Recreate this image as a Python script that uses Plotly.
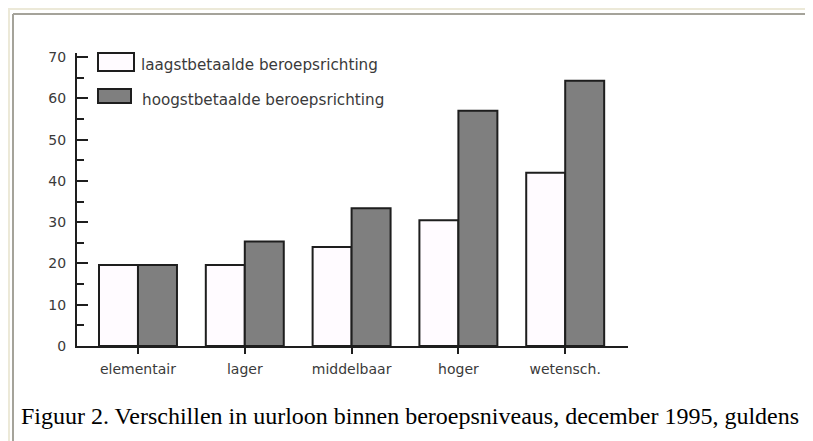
import plotly.graph_objects as go

categories = ["elementair", "lager", "middelbaar", "hoger", "wetensch."]
laagst = [19.6, 19.6, 24.0, 30.5, 42.0]
hoogst = [19.6, 25.3, 33.4, 57.0, 64.3]
series_names = ["laagstbetaalde beroepsrichting", "hoogstbetaalde beroepsrichting"]
y_ticks = [0, 10, 20, 30, 40, 50, 60, 70]
caption = "Figuur 2. Verschillen in uurloon binnen beroepsniveaus, december 1995, guldens"

OFF = 8  # default page body margin
W, H = 813 - OFF, 441 - OFF
# plot area in page pixels
L, R, T, B = 77, 628, 53, 346
PW, PH = R - L, B - T


def px(x):
    return (x - L) / PW


def py(y):
    return (B - y) / PH


TICK_FONT = dict(family="DejaVu Sans", size=14, color="#3a3a3a")
LINE = "#1e1e1e"

fig = go.Figure()
fig.add_trace(go.Bar(x=categories, y=laagst, name=series_names[0],
                     marker=dict(color="#fffbff", line=dict(color=LINE, width=2)),
                     showlegend=False))
fig.add_trace(go.Bar(x=categories, y=hoogst, name=series_names[1],
                     marker=dict(color="#7f7f7f", line=dict(color=LINE, width=2)),
                     showlegend=False))

shapes = []
# legend boxes
shapes.append(dict(type="rect", xref="paper", yref="paper",
                   x0=px(98), x1=px(134), y0=py(71), y1=py(53),
                   fillcolor="#fffbff", line=dict(color=LINE, width=2)))
shapes.append(dict(type="rect", xref="paper", yref="paper",
                   x0=px(98), x1=px(131), y0=py(103), y1=py(89),
                   fillcolor="#7f7f7f", line=dict(color=LINE, width=2)))
# page frame lines
shapes.append(dict(type="line", xref="paper", yref="paper",
                   x0=px(8), x1=px(813), y0=py(9), y1=py(9),
                   line=dict(color="#ece9d8", width=2)))
shapes.append(dict(type="line", xref="paper", yref="paper",
                   x0=px(9), x1=px(9), y0=py(9), y1=py(441),
                   line=dict(color="#ece9d8", width=2)))
shapes.append(dict(type="line", xref="paper", yref="paper",
                   x0=px(13), x1=px(813), y0=py(14), y1=py(14),
                   line=dict(color="#a5a39a", width=2)))
shapes.append(dict(type="line", xref="paper", yref="paper",
                   x0=px(13), x1=px(13), y0=py(14), y1=py(441),
                   line=dict(color="#a5a39a", width=2)))

annotations = [
    dict(xref="paper", yref="paper", x=px(139), y=py(65), text=series_names[0],
         showarrow=False, xanchor="left", yanchor="middle",
         font=dict(family="DejaVu Sans", size=15.2, color="#3a3a3a")),
    dict(xref="paper", yref="paper", x=px(140), y=py(100), text=series_names[1],
         showarrow=False, xanchor="left", yanchor="middle",
         font=dict(family="DejaVu Sans", size=15.2, color="#3a3a3a")),
    dict(xref="paper", yref="paper", x=px(19), y=py(416), text=caption,
         showarrow=False, xanchor="left", yanchor="middle",
         font=dict(family="Liberation Serif", size=24, color="#000000")),
]

fig.update_layout(
    width=W, height=H,
    margin=dict(l=L - OFF, r=813 - R, t=T - OFF, b=441 - B, pad=0),
    paper_bgcolor="white", plot_bgcolor="white",
    barmode="group", bargap=0.27, bargroupgap=0,
    shapes=shapes, annotations=annotations,
    showlegend=False,
)
fig.update_xaxes(
    range=[-0.571, 4.588], showgrid=False, zeroline=False,
    showline=True, linecolor=LINE, linewidth=2,
    ticks="outside", ticklen=6, tickwidth=2, tickcolor=LINE,
    tickfont=TICK_FONT, ticklabelstandoff=3,
)
fig.update_yaxes(
    range=[0, 71], showgrid=False, zeroline=False,
    showline=True, linecolor=LINE, linewidth=2,
    tickmode="array", tickvals=y_ticks, ticktext=[str(v) for v in y_ticks],
    ticks="inside", ticklen=11, tickwidth=2, tickcolor=LINE,
    minor=dict(ticks="inside", ticklen=7, tickwidth=2, tickcolor=LINE, dtick=5, showgrid=False),
    tickfont=TICK_FONT, ticklabelstandoff=6,
)

fig.write_html("out.html")
